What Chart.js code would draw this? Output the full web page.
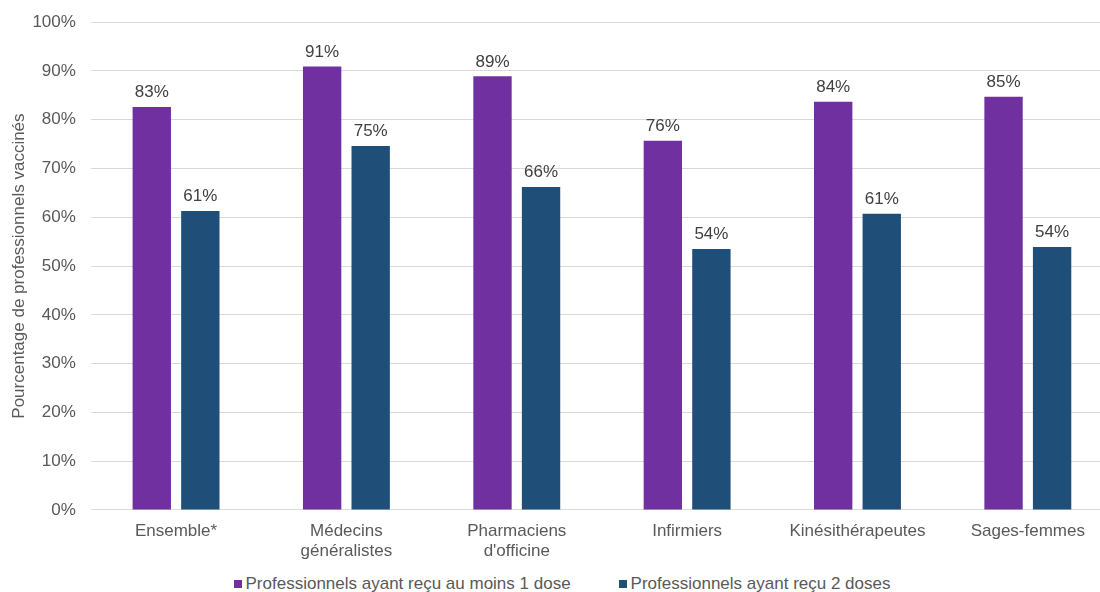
<!DOCTYPE html>
<html>
<head>
<meta charset="utf-8">
<script src="https://cdn.jsdelivr.net/npm/chart.js@4"></script>
<style>
  html, body { margin: 0; padding: 0; background: #fff; overflow: hidden; }
  #wrap { position: relative; width: 1100px; height: 592px; overflow: hidden; }
  #vaccChart { display: block; margin-top: -3px; }
  #legend { position: absolute; left: 0; top: 574px; width: 1124px; text-align: center;
    font: 17px "Liberation Sans", Arial, sans-serif; color: #595959; white-space: nowrap; }
  #legend span.item { display: inline-block; margin: 0 24px; }
  #legend span.box { display: inline-block; width: 8px; height: 8px; margin-right: 4px; vertical-align: 1px; }
</style>
</head>
<body>
<div id="wrap">
  <canvas id="vaccChart" width="1122" height="576"></canvas>
  <div id="legend"></div>
</div>
<script>
var categories = ['Ensemble*', ['Médecins', 'généralistes'], ['Pharmaciens', "d'officine"], 'Infirmiers', 'Kinésithérapeutes', 'Sages-femmes'];
var seriesNames = ['Professionnels ayant reçu au moins 1 dose', 'Professionnels ayant reçu 2 doses'];
var oneDose = [82.6, 90.9, 88.9, 75.7, 83.7, 84.7];
var twoDoses = [61.3, 74.6, 66.2, 53.5, 60.7, 53.9];
var oneDoseLabels = ['83%', '91%', '89%', '76%', '84%', '85%'];
var twoDosesLabels = ['61%', '75%', '66%', '54%', '61%', '54%'];
var yTicks = [0, 10, 20, 30, 40, 50, 60, 70, 80, 90, 100];

var fontFamily = '"Liberation Sans", Arial, sans-serif';
var textColor = '#595959';

// draws the percent above each bar
var barValues = {
  id: 'barValues',
  afterDatasetsDraw: function(chart) {
    var ctx = chart.ctx;
    ctx.save();
    ctx.font = '17px ' + fontFamily;
    ctx.fillStyle = '#404040';
    ctx.textAlign = 'center';
    ctx.textBaseline = 'bottom';
    chart.data.datasets.forEach(function(ds, i) {
      chart.getDatasetMeta(i).data.forEach(function(bar, j) {
        ctx.fillText(ds.valueLabels[j], bar.x, bar.y - 6);
      });
    });
    ctx.restore();
  }
};

var ctx = document.getElementById('vaccChart').getContext('2d');
var vaccChart = new Chart(ctx, {
  type: 'bar',
  data: {
    labels: categories,
    datasets: [{
      label: seriesNames[0],
      data: oneDose,
      valueLabels: oneDoseLabels,
      backgroundColor: '#7030A0',
      categoryPercentage: 0.57,
      barPercentage: 0.79
    }, {
      label: seriesNames[1],
      data: twoDoses,
      valueLabels: twoDosesLabels,
      backgroundColor: '#1F4E79',
      categoryPercentage: 0.57,
      barPercentage: 0.79
    }]
  },
  options: {
    responsive: false,
    devicePixelRatio: 1,
    animation: false,
    layout: { padding: { left: 6, right: 9, top: 11, bottom: 0 } },
    scales: {
      x: {
        grid: { display: false, drawTicks: false },
        border: { display: false },
        ticks: { color: textColor, font: { family: fontFamily, size: 17, lineHeight: 1.15 }, padding: 12, maxRotation: 0, autoSkip: false }
      },
      y: {
        min: 0,
        max: 100,
        afterBuildTicks: function(axis) {
          axis.ticks = yTicks.map(function(v) { return { value: v }; });
        },
        grid: { color: '#D9D9D9', drawTicks: false },
        border: { display: false },
        ticks: {
          color: textColor,
          font: { family: fontFamily, size: 17 },
          padding: 15,
          callback: function(v) { return v + '%'; }
        },
        title: {
          display: true,
          text: 'Pourcentage de professionnels vaccinés',
          color: textColor,
          font: { family: fontFamily, size: 17 },
          padding: { top: 3, bottom: -12 }
        }
      }
    },
    plugins: {
      legend: { display: false },
      tooltip: { enabled: false }
    }
  },
  plugins: [barValues]
});

// legend in html, built from the datasets
var legendEl = document.getElementById('legend');
vaccChart.data.datasets.forEach(function(ds) {
  var item = document.createElement('span');
  item.className = 'item';
  var box = document.createElement('span');
  box.className = 'box';
  box.style.background = ds.backgroundColor;
  item.appendChild(box);
  item.appendChild(document.createTextNode(ds.label));
  legendEl.appendChild(item);
});
</script>
</body>
</html>
